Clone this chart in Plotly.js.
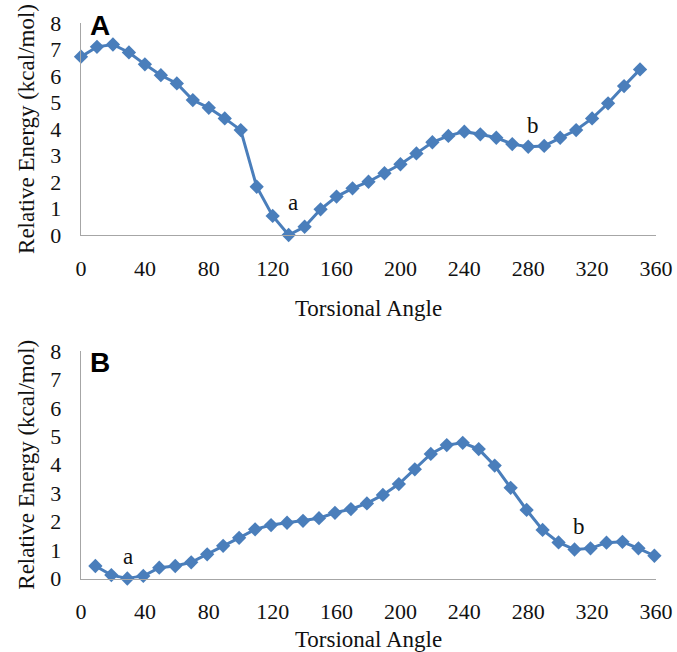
<!DOCTYPE html>
<html>
<head>
<meta charset="utf-8">
<script src="https://cdn.plot.ly/plotly-3.0.1.min.js"></script>
<style>html,body{margin:0;padding:0;background:#fff;}#chart{width:677px;height:652px;}</style>
</head>
<body>
<div id="chart"></div>
<script>
// Panel A: torsional scan
const anglesA = [0,10,20,30,40,50,60,70,80,90,100,110,120,130,140,150,160,170,180,190,200,210,220,230,240,250,260,270,280,290,300,310,320,330,340,350];
const energyA = [6.73,7.10,7.19,6.89,6.44,6.03,5.72,5.09,4.80,4.40,3.96,1.82,0.72,0.00,0.31,0.97,1.45,1.76,2.01,2.33,2.67,3.08,3.50,3.74,3.90,3.80,3.67,3.43,3.33,3.36,3.67,3.96,4.40,4.97,5.62,6.25];
// Panel B: torsional scan
const anglesB = [9,19,29,39,49,59,69,79,89,99,109,119,129,139,149,159,169,179,189,199,209,219,229,239,249,259,269,279,289,299,309,319,329,339,349,359];
const energyB = [0.44,0.12,0.00,0.09,0.38,0.44,0.57,0.85,1.15,1.43,1.73,1.88,1.96,2.03,2.12,2.31,2.44,2.64,2.94,3.32,3.84,4.38,4.69,4.77,4.55,3.97,3.19,2.41,1.71,1.27,1.02,1.06,1.26,1.29,1.06,0.80];
const xTicks = [0,40,80,120,160,200,240,280,320,360];
const yTicks = [0,1,2,3,4,5,6,7,8];
const xTitle = "Torsional Angle";
const yTitle = "Relative Energy (kcal/mol)";
const panelLabels = ["A","B"];
const pointLabelsA = [{t:"a", x:133, y:1.21},{t:"b", x:283, y:4.15}];
const pointLabelsB = [{t:"a", x:29.7, y:0.77},{t:"b", x:312, y:1.84}];

const blue = "#4a7ebb";
const serif = "Liberation Serif";

function trace(x, y, xa, ya){
  return {x:x, y:y, xaxis:xa, yaxis:ya, type:"scatter", mode:"lines+markers", cliponaxis:false,
    line:{color:blue, width:3}, marker:{symbol:"diamond", size:11, color:blue},
    showlegend:false, hoverinfo:"x+y"};
}

function xax(anchor, standoff){
  return {anchor:anchor, domain:[0,1], range:[0,360], tickvals:xTicks, ticktext:xTicks.map(String),
    showgrid:false, zeroline:false, showline:true, linecolor:"#a6a6a6", linewidth:1.3, ticks:"",
    ticklabelstandoff:13, tickfont:{family:serif, size:22, color:"#111"},
    title:{text:xTitle, font:{family:serif, size:23, color:"#111"}, standoff:standoff}};
}
function yax(anchor, domain){
  return {anchor:anchor, domain:domain, range:[0,8], tickvals:yTicks, ticktext:yTicks.map(String),
    showgrid:false, zeroline:false, showline:true, linecolor:"#a6a6a6", linewidth:1.3, ticks:"",
    ticklabelstandoff:14, tickfont:{family:serif, size:22, color:"#111"},
    title:{text:yTitle, font:{family:serif, size:23, color:"#111"}, standoff:9}};
}

const annotations = [];
annotations.push({text:"<b>"+panelLabels[0]+"</b>", xref:"paper", yref:"paper", x:(100-81)/575, y:1-26/652,
  xanchor:"center", yanchor:"middle", showarrow:false, font:{family:"Liberation Sans", size:28, color:"#000"}});
annotations.push({text:"<b>"+panelLabels[1]+"</b>", xref:"paper", yref:"paper", x:(100-81)/575, y:1-362/652,
  xanchor:"center", yanchor:"middle", showarrow:false, font:{family:"Liberation Sans", size:28, color:"#000"}});
pointLabelsA.forEach(p=>annotations.push({text:p.t, xref:"x", yref:"y", x:p.x, y:p.y, showarrow:false,
  xanchor:"center", yanchor:"middle", font:{family:serif, size:23, color:"#111"}}));
pointLabelsB.forEach(p=>annotations.push({text:p.t, xref:"x2", yref:"y2", x:p.x, y:p.y, showarrow:false,
  xanchor:"center", yanchor:"middle", font:{family:serif, size:23, color:"#111"}}));

const layout = {
  width:677, height:652,
  margin:{l:81, r:21, t:0, b:0},
  font:{family:serif},
  paper_bgcolor:"#fff", plot_bgcolor:"#fff",
  xaxis: xax("y", 20),
  yaxis: yax("x", [0.6396, 0.9647]),
  xaxis2: xax("y2", 9),
  yaxis2: yax("x2", [0.1127, 0.4617]),
  annotations: annotations
};

Plotly.newPlot("chart", [trace(anglesA, energyA, "x", "y"), trace(anglesB, energyB, "x2", "y2")], layout, {displayModeBar:false, staticPlot:true});
</script>
</body>
</html>
